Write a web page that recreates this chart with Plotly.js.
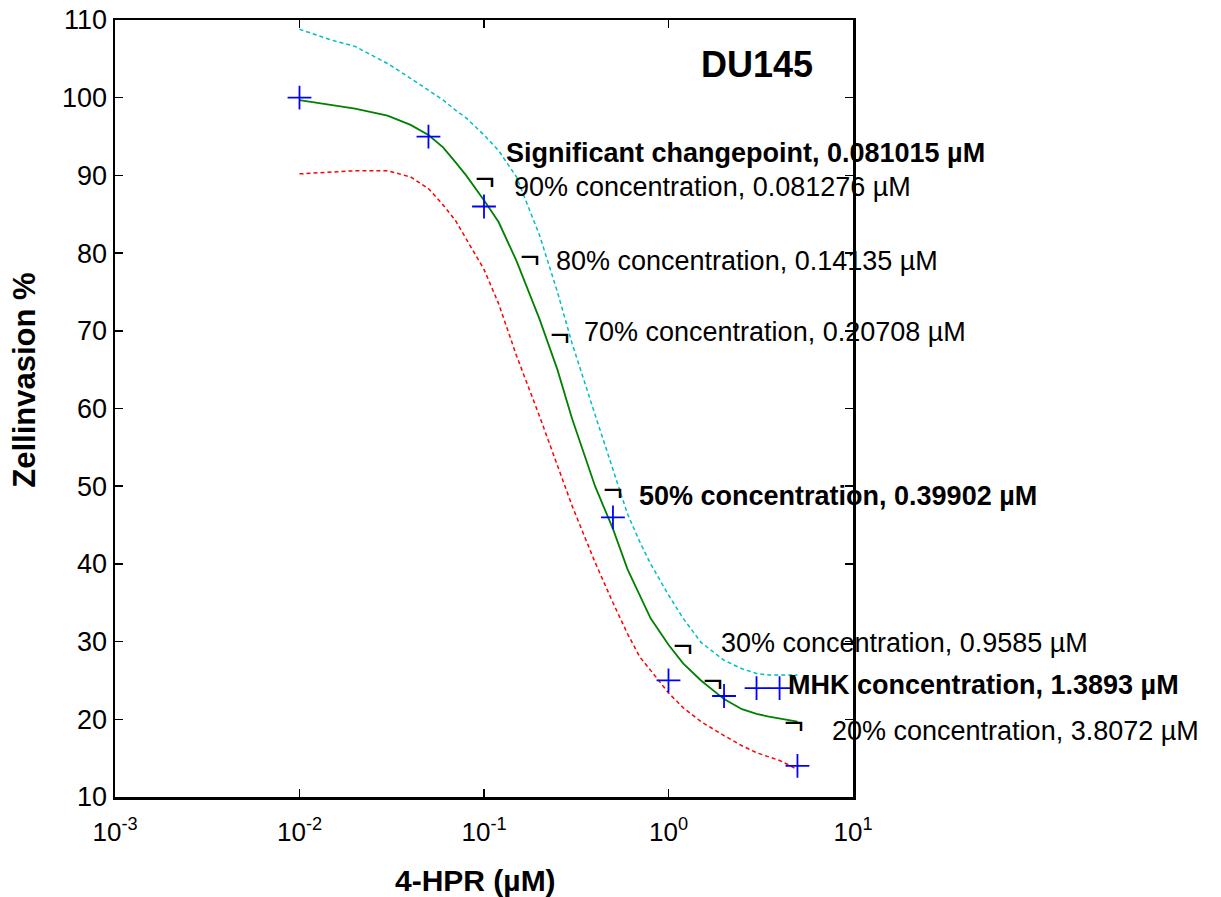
<!DOCTYPE html>
<html>
<head>
<meta charset="utf-8">
<script src="https://cdn.plot.ly/plotly-3.0.1.min.js"></script>
<style>html,body{margin:0;padding:0;background:#fff;}#chart{width:1221px;height:897px;}</style>
</head>
<body>
<div id="chart"></div>
<script>
// ---- data ----
const doseX = [0.01, 0.05, 0.1, 0.5, 1, 2, 3, 4, 5];
const invasionY = [100, 95, 86, 46, 25, 23, 24, 24, 14];

const curveX = [0.01, 0.015, 0.02, 0.03, 0.04, 0.05, 0.06, 0.07, 0.08, 0.1, 0.12, 0.15, 0.2, 0.25, 0.3, 0.4, 0.5, 0.6, 0.7, 0.8, 1.0, 1.2, 1.5, 2, 2.5, 3, 3.5, 4, 4.5, 5];
const fitY   = [99.7, 99.1, 98.6, 97.7, 96.5, 95.2, 93.6, 91.7, 90.0, 86.8, 84.0, 79.0, 71.5, 65.0, 58.7, 50.0, 44.5, 39.3, 35.8, 33.0, 29.6, 27.2, 25.0, 22.6, 21.3, 20.7, 20.35, 20.1, 19.9, 19.7];
const upperY = [108.8, 107.4, 106.6, 104.4, 102.5, 101.0, 99.7, 98.4, 97.4, 95.2, 93.2, 89.8, 82.3, 75.0, 68.4, 59.2, 52.3, 46.4, 42.8, 40.0, 36.0, 33.0, 29.9, 27.6, 26.5, 25.9, 25.7, 25.7, 25.7, 25.7];
const lowerY = [90.2, 90.4, 90.6, 90.6, 89.8, 88.3, 86.2, 84.2, 81.8, 77.9, 73.5, 66.8, 59.0, 52.6, 47.5, 40.2, 35.0, 31.0, 28.0, 26.3, 23.4, 21.5, 19.7, 17.9, 16.6, 15.7, 15.2, 14.7, 14.1, 13.5];

const concLevels = [90, 80, 70, 50, 30, 20];
const concValues = ['0.081276', '0.14135', '0.20708', '0.39902', '0.9585', '3.8072'];
const concBold = [false, false, false, true, false, false];
const mhkValue = '1.3893';
const mhkLevel = 25.5;
const changepointValue = '0.081015';
const cellLine = 'DU145';
const xTitle = '4-HPR (µM)';
const yTitle = 'Zellinvasion %';

const xTickVals = [0.001, 0.01, 0.1, 1, 10];
const xTickText = ['10<sup>-3</sup>', '10<sup>-2</sup>', '10<sup>-1</sup>', '10<sup>0</sup>', '10<sup>1</sup>'];
const yTickVals = [10, 20, 30, 40, 50, 60, 70, 80, 90, 100, 110];

// ---- label placement (layout) ----
const labelPos = {
  '90': [0.1418, 88.5], '80': [0.2394, 79.0], '70': [0.3398, 69.85],
  '50': [0.6751, 48.74], '30': [1.878, 29.82], '20': [7.504, 18.49]
};
const mhkPos = [4.335, 24.41];
const cpPos = [0.1284, 92.88];
const titlePos = [3.018, 104.27];

const FONT = 'Liberation Sans, Arial, Helvetica, sans-serif';
const labelSize = 27;
const markSize = 34;

const traces = [
  {x: curveX, y: upperY, mode: 'lines', line: {color: '#00bfbf', width: 1.5, dash: '4px,3px'}, hoverinfo: 'skip'},
  {x: curveX, y: lowerY, mode: 'lines', line: {color: '#ff0000', width: 1.5, dash: '4px,3px'}, hoverinfo: 'skip'},
  {x: curveX, y: fitY, mode: 'lines', line: {color: '#008000', width: 1.8}, hoverinfo: 'skip'},
  {x: doseX, y: invasionY, mode: 'markers', marker: {symbol: 'cross-thin', size: 17, line: {color: '#0000ff', width: 1.8}}}
];

const annotations = [];
function mark(xv, yv) {
  annotations.push({x: Math.log10(xv), y: yv, xref: 'x', yref: 'y', text: '¬', showarrow: false,
    xanchor: 'left', yanchor: 'middle', xshift: 6, yshift: -3, font: {family: FONT, size: markSize, color: '#000'}});
}
function label(p, t, bold) {
  annotations.push({x: Math.log10(p[0]), y: p[1], xref: 'x', yref: 'y', text: bold ? '<b>' + t + '</b>' : t, showarrow: false,
    xanchor: 'left', yanchor: 'middle', font: {family: FONT, size: labelSize, color: '#000'}});
}
concLevels.forEach((lv, i) => {
  mark(parseFloat(concValues[i]), lv);
  label(labelPos[String(lv)], lv + '% concentration, ' + concValues[i] + ' µM', concBold[i]);
});
mark(parseFloat(mhkValue), mhkLevel);
label(mhkPos, 'MHK concentration, ' + mhkValue + ' µM', true);
label(cpPos, 'Significant changepoint, ' + changepointValue + ' µM', true);
annotations.push({x: Math.log10(titlePos[0]), y: titlePos[1], xref: 'x', yref: 'y', text: '<b>' + cellLine + '</b>', showarrow: false,
  xanchor: 'center', yanchor: 'middle', font: {family: FONT, size: 36, color: '#000'}});
// axis titles
annotations.push({x: -0.122, y: 0.537, xref: 'paper', yref: 'paper', text: '<b>' + yTitle + '</b>', showarrow: false,
  textangle: -90, xanchor: 'center', yanchor: 'middle', font: {family: FONT, size: 31, color: '#000'}});
annotations.push({x: 0.488, y: -0.107, xref: 'paper', yref: 'paper', text: '<b>' + xTitle + '</b>', showarrow: false,
  xanchor: 'center', yanchor: 'middle', font: {family: FONT, size: 30, color: '#000'}});

const layout = {
  width: 1221, height: 897,
  margin: {l: 115, r: 368, t: 20, b: 100, pad: 0},
  paper_bgcolor: '#fff', plot_bgcolor: '#fff',
  showlegend: false,
  font: {family: FONT, color: '#000'},
  xaxis: {
    type: 'log', range: [-3, 1], tickvals: xTickVals, ticktext: xTickText,
    ticks: 'inside', ticklen: 8, tickwidth: 1.5, tickcolor: '#000',
    showline: true, linecolor: '#000', linewidth: 2.5, mirror: 'ticks',
    showgrid: false, zeroline: false, ticklabelstandoff: 10,
    tickfont: {family: FONT, size: 26, color: '#000'}
  },
  yaxis: {
    range: [10, 110], tickvals: yTickVals,
    ticks: 'inside', ticklen: 8, tickwidth: 1.5, tickcolor: '#000',
    showline: true, linecolor: '#000', linewidth: 2.5, mirror: 'ticks',
    showgrid: false, zeroline: false,
    tickfont: {family: FONT, size: 27, color: '#000'}
  },
  annotations: annotations
};

Plotly.newPlot('chart', traces, layout, {displayModeBar: false, staticPlot: true});
</script>
</body>
</html>
